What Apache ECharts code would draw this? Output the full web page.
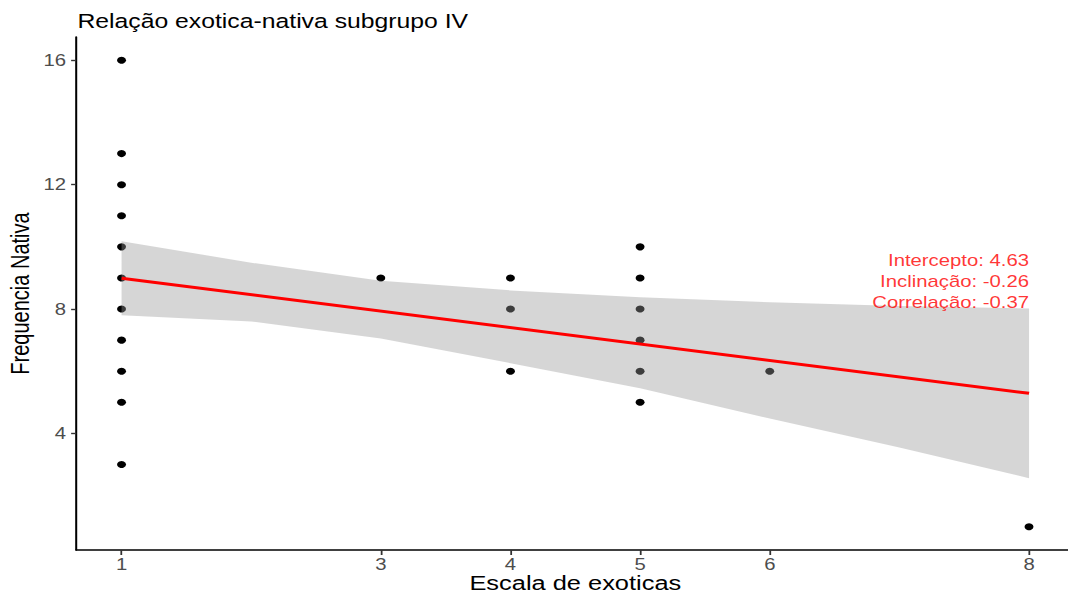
<!DOCTYPE html>
<html>
<head>
<meta charset="utf-8">
<script src="https://cdn.jsdelivr.net/npm/echarts@6/dist/echarts.min.js"></script>
<style>
  html, body { margin: 0; padding: 0; background: #fff; overflow: hidden; }
  /* the reference picture is stretched sideways, so draw narrower and stretch */
  #chart { width: 841px; height: 595px; transform: scaleX(1.27); transform-origin: 0 0; }
</style>
</head>
<body>
<div id="chart"></div>
<script>
// pontos (escala de exoticas, frequencia nativa)
const pointX = [1, 1, 1, 1, 1, 1, 1, 1, 1, 1, 1, 3, 4, 4, 4, 5, 5, 5, 5, 5, 5, 6, 8];
const pointY = [16, 13, 12, 11, 10, 9, 8, 7, 6, 5, 3, 9, 9, 8, 6, 10, 9, 8, 7, 6, 5, 6, 1];

// reta ajustada
const lineX = [1, 8];
const lineY = [8.99, 5.29];

// faixa de confianca
const bandX = [1, 2, 3, 4, 5, 6, 7, 8];
const bandUpper = [10.18, 9.49, 8.91, 8.60, 8.38, 8.22, 8.10, 8.02];
const bandLower = [7.80, 7.60, 7.05, 6.26, 5.45, 4.48, 3.55, 2.56];

const xTicks = [1, 3, 4, 5, 6, 8];
const yTicks = [4, 8, 12, 16];

const annotText = ['Intercepto: 4.63', 'Inclinação: -0.26', 'Correlação: -0.37'];
const annotPos = [8, 8.9];

const font = "'Liberation Sans', Arial, sans-serif";

const chart = echarts.init(document.getElementById('chart'), null, {renderer: 'svg'});

chart.setOption({
  animation: false,
  textStyle: {fontFamily: font},
  title: {
    text: 'Relação exotica-nativa subgrupo IV',
    left: 61,
    top: 11,
    padding: 0,
    textStyle: {fontSize: 19.5, fontWeight: 'normal', color: '#000', fontFamily: font}
  },
  grid: {left: 60, right: -5, top: 37, bottom: 45, outerBoundsMode: 'none', containLabel: false},
  xAxis: {
    type: 'value',
    min: 0.65,
    max: 8.35,
    name: 'Escala de exoticas',
    nameLocation: 'middle',
    nameGap: 23,
    nameMoveOverlap: false,
    nameTextStyle: {fontSize: 20, color: '#000', verticalAlign: 'top'},
    splitLine: {show: false},
    axisLine: {onZero: false, lineStyle: {color: '#000', width: 1.6}},
    axisTick: {length: 5, customValues: xTicks, lineStyle: {color: '#333', width: 1.4}},
    axisLabel: {customValues: xTicks, fontSize: 16, color: '#4d4d4d', margin: 6}
  },
  yAxis: {
    type: 'value',
    min: 0.25,
    max: 16.75,
    name: 'Frequencia Nativa',
    nameLocation: 'middle',
    nameGap: 34,
    nameMoveOverlap: false,
    nameTextStyle: {fontSize: 20, color: '#000'},
    splitLine: {show: false},
    axisLine: {onZero: false, lineStyle: {color: '#000', width: 1.6}},
    axisTick: {length: 4, customValues: yTicks, lineStyle: {color: '#333', width: 1.4}},
    axisLabel: {customValues: yTicks, fontSize: 16, color: '#4d4d4d', margin: 8}
  },
  series: [
    {
      type: 'scatter',
      data: pointX.map((x, i) => [x, pointY[i]]),
      symbolSize: 7,
      itemStyle: {color: '#000', opacity: 1},
      z: 2
    },
    {
      // faixa cinza por cima dos pontos, como no ggplot
      type: 'custom',
      data: [0],
      z: 3,
      silent: true,
      renderItem: function (params, api) {
        const top = bandX.map((x, i) => api.coord([x, bandUpper[i]]));
        const bottom = bandX.map((x, i) => api.coord([x, bandLower[i]])).reverse();
        return {
          type: 'polygon',
          shape: {points: top.concat(bottom)},
          style: {fill: 'rgba(153,153,153,0.4)'}
        };
      }
    },
    {
      type: 'line',
      data: lineX.map((x, i) => [x, lineY[i]]),
      symbol: 'none',
      lineStyle: {color: '#ff0000', width: 3},
      z: 4
    },
    {
      type: 'scatter',
      data: [annotPos],
      symbolSize: 0,
      z: 5,
      label: {
        show: true,
        position: 'left',
        distance: 0,
        formatter: annotText.join('\n'),
        fontSize: 16,
        lineHeight: 21,
        color: '#ff0000',
        align: 'right'
      }
    }
  ]
});
</script>
</body>
</html>
